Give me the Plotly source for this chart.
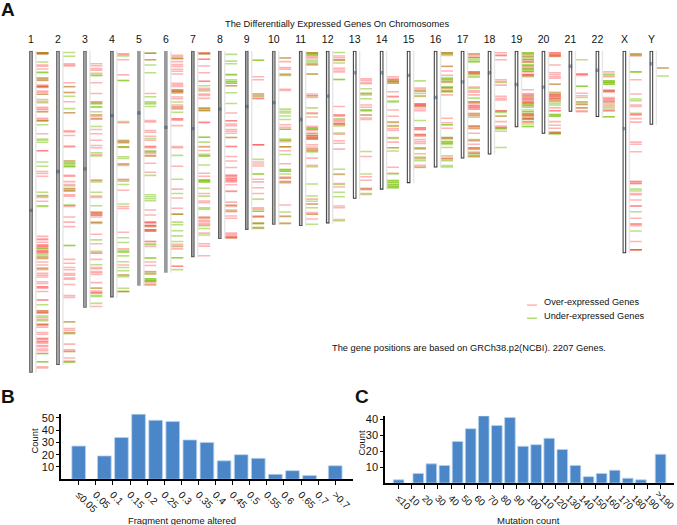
import plotly.graph_objects as go

W, H = 677, 525

chrom_names = ["1", "2", "3", "4", "5", "6", "7", "8", "9", "10", "11", "12",
               "13", "14", "15", "16", "17", "18", "19", "20", "21", "22", "X", "Y"]
# chromosome lengths and centromeres in Mb
chrom_len = [248, 242, 198, 190, 181, 171, 159, 145, 138, 134, 135, 133,
             114, 107, 102, 90, 83, 80, 59, 64, 47, 51, 156, 57]
centromere = [123, 93, 91, 50, 48, 59, 60, 45, 43, 40, 53, 35,
              17, 17, 19, 36, 24, 17, 26, 28, 12, 15, 60, 10]
chrom_edge = ["#555555", "#555555", "#666666", "#555555", "#999999", "#999999", "#5e5e5e", "#5e5e5e",
              "#5e5e5e", "#5e5e5e", "#4a4a4a", "#404040", "#333333", "#333333", "#333333", "#333333",
              "#333333", "#333333", "#333333", "#333333", "#333333", "#333333", "#333333", "#333333"]
chrom_fill = ["#b0b0b0", "#b8b8b8", "#a8a8a8", "#a8a8a8", "#999999", "#999999", "#a0a0a0", "#a0a0a0",
              "#a0a0a0", "#b0b0b0", "#c0c0c0", "#d8d8d8", "#ffffff", "#ffffff", "#ffffff", "#ffffff",
              "#ffffff", "#ffffff", "#ffffff", "#ffffff", "#ffffff", "#ffffff", "#ffffff", "#ffffff"]

# gene positions, Mb (repeats = several genes at one spot)
over_1 = [1.5, 2, 2.5, 11, 12, 14, 21, 22.7, 26.5, 27.5, 27.5, 28.3, 31, 32, 33.5, 39, 43.6, 44.6, 45.4, 47,
          52, 53, 54, 64, 77, 77, 93, 94.6, 96.7, 111.5, 113, 116, 143, 145, 145.5, 147.5, 149.7, 149.7, 150.8,
          150.8, 151.5, 154, 154, 155, 155, 155.9, 159, 160.2, 162.7, 165, 167.3, 168.6, 171.5, 173, 174.3,
          178, 179.3, 181.9, 181.9, 182.9, 185.4, 192, 192, 200.5, 200.5, 201.8, 201.8, 205.6, 207, 210.7, 210.7,
          211.7, 213, 217, 218.4, 221.7, 221.7, 222.7, 224.2, 224.2, 225.3, 227, 227.8, 229.8, 231, 233, 243.4, 244.4]
under_1 = [1.5, 1.5, 2, 2, 2.5, 8.7, 16.5, 17, 21, 22, 23, 27.5, 27.5, 33.5, 37.5, 40, 47, 54, 54, 57, 68, 69, 70.5,
           85.7, 89, 109, 112, 119.4, 120, 152.5, 152.5, 157, 158.2, 159.7, 167.8, 195.7, 200.5, 201.8, 204.4, 207.9, 211, 233.4, 239.5, 239.5]
over_2 = [10, 11, 11.7, 24.7, 27.5, 32.4, 39.3, 47.7, 61.7, 62.5, 65.3, 73.5, 74.2, 85, 96, 96.7, 100.8, 103, 106, 107.4,
          111, 112, 120, 128, 132, 135.5, 160.7, 163.7, 167, 168.7, 171.7, 173, 175, 176, 180, 188.5, 190, 208.7, 214, 215.3, 217,
          226, 230.4, 231.7, 236.7, 239]
under_2 = [1.3, 4.3, 27.8, 32, 35, 44.6, 47.7, 85, 86.5, 86.5, 87.5, 88.8, 88.8, 89.5, 104, 106.4, 108, 108, 119, 119, 150, 150,
           209, 217.3, 218, 231.7, 239.5, 240]
over_3 = [10, 11.5, 13.8, 15, 17.3, 24.7, 33, 39.3, 40.5, 49.5, 50.8, 52.5, 60.7, 64, 69, 73, 74.7, 80, 99.7, 112, 124, 125, 125, 126.5,
          126.5, 128, 132.3, 141.3, 148.7, 155.6, 160.7, 167, 168, 170, 171, 172.3, 178.6, 182.7, 185, 186.2, 186.2, 197]
under_3 = [19, 19, 39.8, 41, 43.4, 43.4, 47, 49.5, 52.5, 58.4, 78.6, 81, 99.7, 101, 109, 113, 119.4, 125, 126.5, 132, 133, 145.7, 154.5,
           156, 164.8, 183, 187, 188.5, 189.3, 194.6]
over_4 = [2.3, 3, 7, 18.6, 55.4, 69.5, 70.5, 74.5, 87, 88.3, 99, 100.5, 107.4, 120, 121.5, 139.8, 152.6, 165, 172.7, 185.5]
under_4 = [4, 23, 23, 54.6, 69, 70, 71, 74, 74, 81.6, 83, 87.5, 99.5, 103, 118, 147.7, 144, 153.8, 155, 155, 158, 162.5, 167, 169.4,
           172.7, 174, 183, 185.5, 185.5]
over_5 = [2, 7, 33, 53.8, 54.8, 61.5, 62.8, 65.8, 69, 73.7, 73.7, 74.7, 78, 79.3, 81, 86.7, 93.6, 122.7, 126.5, 132, 132, 132.8, 134.7,
          134.7, 135.5, 138, 138, 139, 139, 147, 147, 150.8, 162.7, 165.5, 170, 171.7, 178.6, 180]
under_5 = [2, 2, 7, 11, 17, 35.5, 39.3, 40.3, 41, 43, 67.6, 77, 78, 81, 96, 111, 112.5, 114, 115.5, 134.7, 138, 148.7, 149.5, 159.6,
           159.6, 170.5, 172, 175.7, 175.7, 176.8, 176.8, 177.5, 177.5, 180.4]
over_6 = [3.5, 4.6, 6, 8.4, 10.7, 12.2, 14.3, 15.8, 17.9, 25, 26.3, 27.5, 30, 30, 31.4, 31.4, 32.7, 35.7, 37, 41.8, 42.9, 44.4, 52.5, 52.5, 53.6,
          57.7, 73.7, 74.7, 89, 106.6, 113.5, 121.4, 126, 149, 150.2, 152.6, 166, 166]
under_6 = [6, 6, 31, 31, 32, 39.5, 43.5, 44.9, 47.4, 80.6, 99, 110, 126, 126, 132, 134, 138.7, 142.6, 147, 151, 159.5, 159.5, 168.6]
over_7 = [1.5, 2, 2.5, 6.6, 6.6, 11.7, 17, 23.5, 23.5, 29, 30, 33.4, 34.4, 36.7, 44.4, 46, 55, 55.5, 73.7, 76.8, 94.4, 96.7, 110, 115.8, 117,
          128, 129, 130.5, 131.6, 132.9, 134, 140.5, 148.7, 150.5, 157.9]
under_7 = [2, 2.5, 27, 31, 44.4, 44.4, 46, 46, 66.6, 66.6, 70.4, 74.2, 79.8, 81, 81, 88, 99.7, 99.7, 99.7, 101, 101, 105.9, 112, 121, 122, 128.5,
           134.7, 137, 142]
over_8 = [27, 48, 54, 54, 56.4, 57.7, 60.7, 62, 63.5, 66.8, 73.7, 73.7, 81.4, 85, 90, 96, 96, 97, 98.5, 98.5, 100, 100, 101, 103.3, 108, 108.4, 116.6, 119,
          120, 122.7, 124, 127.3, 129, 140.5, 141.5, 143, 143, 144, 144]
under_8 = [2.8, 8, 10, 18.4, 18.4, 22.4, 23.7, 23.7, 25, 25, 27, 32.4, 40.6, 66.8, 119, 123.5, 144]
over_9 = [20, 22.4, 33.4, 34.7, 36.7, 36.7, 72.4, 72.4, 72.4, 85.7, 87.2, 88.8, 99, 101, 105.5, 110, 121, 122, 127.6, 127.6, 133, 136.5]
under_9 = [7.4, 7.4, 33.4, 35, 83.7, 95, 95, 114.3, 123.7, 123.7, 128, 133, 133, 136, 137]
over_10 = [5.6, 8.4, 13, 14.3, 17.9, 29.6, 30.6, 57, 59, 60.5, 70, 74, 77, 87, 97.2, 98.2, 100.5, 101.8, 118.9, 127.6, 133]
under_10 = [5.6, 18.4, 19, 45, 46.7, 48, 50.3, 53, 60.5, 68, 69, 69, 74, 74, 80, 91.6, 91.6, 92.9, 92.9, 95, 98, 101, 124.2, 127.6, 133]
over_11 = [1.5, 4.5, 5.5, 10.7, 17.9, 33.4, 34.7, 36, 47.7, 51, 58.2, 61.5, 63.3, 65.3, 65.3, 66.6, 66.6, 67.9, 67.9, 72.4, 74.2, 75.5, 77, 82.7, 88.3,
           114.3, 118, 124.7, 126, 129.6]
under_11 = [1.5, 1.5, 2.3, 2.3, 3.3, 3.3, 7.1, 8.4, 9.7, 10.7, 18, 34.7, 44, 48.5, 59.4, 59.4, 60.5, 60.5, 64, 65.5, 66.8, 68, 75.8, 77, 78,
            89.3, 102.6, 111.9, 116, 118, 121, 126, 133.7]
over_12 = [4, 5.4, 7.5, 13.5, 14.8, 16.3, 42.9, 49.5, 49.5, 50.5, 53.6, 54.6, 56, 56, 57, 64.3, 69.4, 71.2, 75.8, 95, 102.3, 105, 119.6, 121, 130]
under_12 = [1.3, 7, 7, 9.5, 22.2, 22.2, 52.5, 56.5, 58, 63.3, 91.3, 95.3, 103, 109, 112.5, 131]
over_13 = [21.7, 23, 24.5, 25.5, 33, 41.8, 43.5, 49.5, 51.8, 53, 81.4, 97, 99.7, 106, 107, 110]
under_13 = [29.3, 32.7, 34, 37, 45.7, 45.7, 46.4, 49.5, 77.6, 95, 106.4, 110.8]
over_14 = [20, 21.4, 23, 24, 31.6, 35, 35.7, 45.7, 50.5, 54.8, 57.7, 60, 61.5, 66.8, 70.4, 74.7, 89.8, 94.4]
under_14 = [22.4, 22.4, 23.7, 23.7, 25, 25, 38.8, 39.5, 55.3, 58.2, 67.5, 74.7, 77.3, 95, 100, 100, 101.3, 101.3, 102.8, 102.8, 104.3, 104.3, 105.6, 105.6]
over_15 = [28.8, 30, 31.4, 34.7, 41, 41, 41, 42.3, 42.3, 42.3, 44.9, 46.2, 59.4, 59.4, 60.7, 60.7, 64.5, 64.5, 65.8, 68.4, 70, 71.4, 74.7, 79.3, 82.6, 88.3, 89.5]
under_15 = [23.2, 30.9, 32.9, 35.2, 43.4, 53.8, 65, 75.2, 75.7, 81.9, 83.4, 84.8, 90]
over_16 = [1.5, 3.6, 12.2, 15.6, 19, 24.5, 28.5, 31, 34, 52, 55.4, 59.7, 67.3, 81, 82.7, 83.8]
under_16 = [1.5, 1.5, 2.5, 2.5, 12, 21.2, 21.2, 22.4, 22.4, 23.7, 23.7, 28, 28, 29, 30.4, 31.6, 31.6, 57, 57, 66.8, 66.8, 67.9, 70, 70, 71.2, 71.2, 72.2, 74.5, 83, 84.7, 88.5, 89.5]
over_17 = [2.3, 3.6, 4.8, 16.3, 16.3, 17.6, 17.6, 28, 30.9, 32, 34, 39.3, 39.3, 40.6, 42.3, 42.3, 43.6, 43.6, 44.9, 44.9, 48.2, 49.5, 51.3, 58, 58, 60, 63.5, 68.9, 72, 74.7,
          74.7, 76, 78.6, 81.9]
under_17 = [2.5, 5.4, 5.4, 6.9, 8.4, 8.4, 16.8, 18, 19.4, 20.4, 29, 36.5, 39.8, 48.7, 50, 58.4, 59.4, 68.4, 69.6, 75.5, 78, 79.3, 79.3, 81, 81]
over_18 = [1.5, 3.6, 3.6, 7, 22.4, 23.7, 26.5, 35, 36.7, 38, 46.2, 46.2, 50.3, 54.6, 58, 59.2, 59.2]
under_18 = [24.5, 46.7, 47.5, 50.5, 60, 60, 62, 74.5]
over_19 = [2.3, 4, 7.2, 9, 11.7, 14.3, 16.3, 18.4, 18.4, 19, 19, 30, 33.4, 33.4, 34.7, 34.7, 36.7, 36.7, 38, 38, 40, 40, 43.5, 48.7, 48.7, 50, 50, 51.8, 51.8, 53, 55]
under_19 = [1.5, 1.5, 3, 4.8, 4.8, 6.6, 6.6, 8.4, 8.4, 11, 11, 12.5, 13.8, 13.8, 15.6, 15.6, 20, 35.7, 39.3, 39.3, 41, 41, 42.3, 42.3, 45.7, 47, 47, 48.7, 50, 52.5, 52.5, 54.6, 56.4, 58.4, 58.4]
over_20 = [1.5, 1.5, 2.8, 2.8, 4, 4, 11, 17, 18.4, 20, 21.2, 25.8, 32.5, 34, 34, 35.5, 35.5, 37, 37, 38.5, 44, 46.2, 46.2, 54.6, 57.4, 59.7, 63.3, 63.3]
under_20 = [3.5, 4.5, 25.8, 32, 33.4, 34.7, 36.5, 38, 39.3, 40.6, 41.8, 49.2, 49.2, 50.5, 50.5, 62.8, 62.8, 64, 64]
over_21 = [18, 18, 19, 32.7, 34.7, 39.3, 41.3, 44, 46.2, 47]
under_21 = [7, 27.3, 27.3, 36, 39.8, 41.3, 44]
over_22 = [16.3, 20, 30.4, 30.4, 31.6, 31.6, 36, 37.2, 37.2, 38.5, 39.8, 41, 43.5, 46.2, 46.2]
under_22 = [18, 19, 23.2, 23.2, 24.5, 24.5, 24.5, 25.8, 25.8, 30.9, 39, 42.3, 45, 50.8, 50.8]
over_x = [3.3, 4, 22.4, 33.4, 41.8, 42.9, 49.2, 49.2, 52.3, 55, 70.4, 72, 77.8, 100.8, 100.8, 102.3, 102.3, 110, 111, 115, 119.6, 119.6, 129, 133.4, 133.4, 134.7, 147, 153.3, 153.3, 153.3]
under_x = [2.3, 2.3, 3.3, 16.3, 16.3, 37.2, 38.5, 48.2, 106.6, 108, 124, 138.8, 153.3]
over_y = [13.3]
under_y = [13.3, 19.4]

over_by_chrom = [over_1, over_2, over_3, over_4, over_5, over_6, over_7, over_8, over_9, over_10, over_11, over_12,
                 over_13, over_14, over_15, over_16, over_17, over_18, over_19, over_20, over_21, over_22, over_x, over_y]
under_by_chrom = [under_1, under_2, under_3, under_4, under_5, under_6, under_7, under_8, under_9, under_10, under_11, under_12,
                  under_13, under_14, under_15, under_16, under_17, under_18, under_19, under_20, under_21, under_22, under_x, under_y]

# histogram panels
fga_labels = ["≤0.05", "0.05", "0.1", "0.15", "0.2", "0.25", "0.3", "0.35", "0.4", "0.45", "0.5", "0.55", "0.6", "0.65", "0.7", ">0.7"]
fga_bins = [0, 1.5, 2.5, 3.5, 4.5, 5.5, 6.5, 7.5, 8.5, 9.5, 10.5, 11.5, 12.5, 13.5, 15]
fga_counts = [27, 19, 34, 53, 48, 47, 32, 30, 15, 20, 17, 4, 7, 3, 11]
# last label goes in as an annotation, as a tick label it would run past the page edge
mut_labels = ["≤10", "10", "20", "30", "40", "50", "60", "70", "80", "90", "100", "110", "120", "130", "140", "150", "160", "170", "180", "190", ""]
mut_bins = [0, 1.5, 2.5, 3.5, 4.5, 5.5, 6.5, 7.5, 8.5, 9.5, 10.5, 11.5, 12.5, 13.5, 14.5, 15.5, 16.5, 17.5, 18.5, 20]
mut_counts = [2, 6, 12, 11, 26, 34, 42, 36, 41, 23, 24, 28, 21, 11, 4, 6, 8, 3, 2, 18]

FONT = "Liberation Sans, Arial, sans-serif"
OVER = "rgba(255,60,60,0.38)"
UNDER = "rgba(115,190,0,0.48)"
BAR = "#4A86C8"
BAR_EDGE = "#B8D3EE"

fig = go.Figure()

# pale guide, chromosome body, centromere
for i, (length, cen) in enumerate(zip(chrom_len, centromere)):
    pos = i + 1
    fig.add_trace(go.Scatter(x=[pos + 0.185, pos + 0.185], y=[0, length], mode="lines",
                             line=dict(color="#e6e6e6", width=1.4), hoverinfo="skip"))
    fig.add_trace(go.Scatter(x=[pos, pos], y=[0, length], mode="lines",
                             line=dict(color=chrom_edge[i], width=3.6), hoverinfo="skip"))
    fig.add_trace(go.Scatter(x=[pos, pos], y=[0.8, length - 0.8], mode="lines",
                             line=dict(color=chrom_fill[i], width=1.6), hoverinfo="skip"))
    fig.add_trace(go.Scatter(x=[pos], y=[cen], mode="markers", hoverinfo="skip",
                             marker=dict(symbol="square", size=3.4, color="rgba(60,85,115,0.55)")))

# gene marks, each one its own bar so that overlaps build up
for i in range(24):
    for genes, colour in ((under_by_chrom[i], UNDER), (over_by_chrom[i], OVER)):
        fig.add_trace(go.Bar(y=genes, x=[0.46] * len(genes), base=[i + 1.185] * len(genes),
                             orientation="h", width=1.2, marker=dict(color=colour, line=dict(width=0))))

fig.add_trace(go.Bar(x=fga_bins, y=fga_counts, width=0.8, xaxis="x2", yaxis="y2",
                     marker=dict(color=BAR, line=dict(color=BAR_EDGE, width=0.8))))
fig.add_trace(go.Bar(x=mut_bins, y=mut_counts, width=0.81, xaxis="x3", yaxis="y3",
                     marker=dict(color=BAR, line=dict(color=BAR_EDGE, width=0.8))))

axis_common = dict(showgrid=False, zeroline=False, showline=True, linecolor="black", linewidth=1.5,
                   ticks="outside", tickcolor="black", tickwidth=1.3)


def anno(x, y, text, size, xanchor="center", **kw):
    return dict(x=x / W, y=1 - y / H, xref="paper", yref="paper", text=text, showarrow=False,
                xanchor=xanchor, yanchor="middle", font=dict(family=FONT, size=size, color="#111111"), **kw)


annotations = [
    anno(-1, 7, "<b>A</b>", 19, xanchor="left"),
    anno(-1, 396, "<b>B</b>", 19, xanchor="left"),
    anno(353, 396, "<b>C</b>", 19, xanchor="left"),
    anno(337, 21, "The Differentially Expressed Genes On Chromosomes", 9.3),
    anno(542, 301, "Over-expressed Genes", 9.2, xanchor="left"),
    anno(542, 314.5, "Under-expressed Genes", 9.2, xanchor="left"),
    anno(469, 347, "The gene positions are based on GRCh38.p2(NCBI). 2207 Genes.", 9.3),
    anno(182, 520, "Fragment genome altered", 9.4),
    anno(528, 520, "Mutation count", 9.5),
    anno(34, 441, "Count", 9.4, textangle=-90),
    anno(361, 443, "Count", 9.4, textangle=-90),
    anno(664.5, 499.5, "&gt;190", 9.6, textangle=45),
]

shapes = [
    dict(type="line", xref="paper", yref="paper", x0=527 / W, x1=537 / W, y0=1 - 303.8 / H, y1=1 - 303.8 / H,
         line=dict(color="rgba(255,80,80,0.5)", width=1.3)),
    dict(type="line", xref="paper", yref="paper", x0=527 / W, x1=537 / W, y0=1 - 317 / H, y1=1 - 317 / H,
         line=dict(color="rgba(115,190,0,0.8)", width=1)),
]

fig.update_layout(
    width=W, height=H, margin=dict(l=0, r=0, t=0, b=0), paper_bgcolor="white", plot_bgcolor="white",
    showlegend=False, barmode="overlay", font=dict(family=FONT, color="#111111"),
    annotations=annotations, shapes=shapes,
    xaxis=dict(domain=[0, 1], range=[-0.149, 24.95], side="top", tickmode="array",
               tickvals=list(range(1, 25)), ticktext=chrom_names, ticks="outside", ticklen=3,
               tickcolor="rgba(0,0,0,0)", tickangle=0,
               showgrid=False, zeroline=False, showline=False, tickfont=dict(size=10.5)),
    yaxis=dict(domain=[1 - 373 / H, 1 - 48 / H], range=[248.9, 0], visible=False),
    xaxis2=dict(domain=[61 / W, 353 / W], range=[-1.035, 16.04], anchor="y2", tickmode="array",
                tickvals=list(range(16)), ticktext=fga_labels, ticklen=4, tickangle=45,
                tickfont=dict(size=10), **axis_common),
    yaxis2=dict(domain=[1 - 479 / H, 1 - 413 / H], range=[0, 53.4], anchor="x2", tickmode="array",
                tickvals=[10, 20, 30, 40, 50], ticklen=3, tickfont=dict(size=11), **axis_common),
    xaxis3=dict(domain=[385 / W, 674.3 / W], range=[-1.04, 21.05], anchor="y3", tickmode="array",
                tickvals=list(range(21)), ticktext=mut_labels, ticklen=4, tickangle=45,
                tickfont=dict(size=9.6), **axis_common),
    yaxis3=dict(domain=[1 - 482.8 / H, 1 - 415 / H], range=[0, 42.2], anchor="x3", tickmode="array",
                tickvals=[10, 20, 30, 40], ticklen=3, tickfont=dict(size=11), **axis_common),
)

# the page's default body margin would push the figure 8px off the window
fig.write_html("out.html", config=dict(displayModeBar=False),
               post_script="document.body.style.margin = '0';")
